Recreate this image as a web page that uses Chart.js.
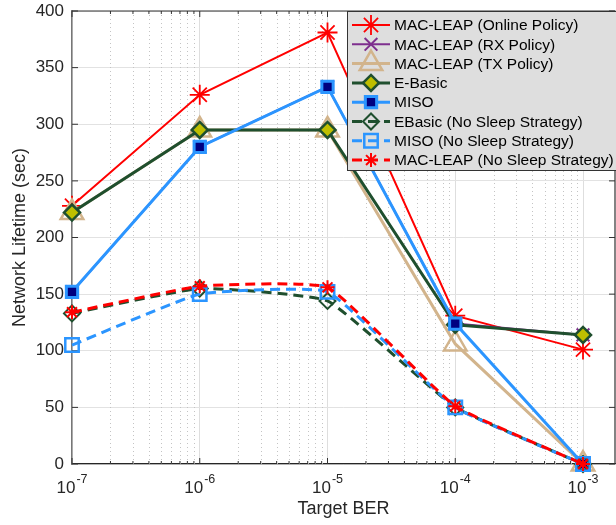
<!DOCTYPE html>
<html>
<head>
<meta charset="utf-8">
<script src="https://cdn.jsdelivr.net/npm/chart.js@4.4.0/dist/chart.umd.min.js"></script>
<style>
  body { margin: 0; background: #fff; }
  #wrap { width: 616px; height: 525px; }
</style>
</head>
<body>
<div id="wrap"><canvas id="lifetimeChart"></canvas></div>
<script>
// values
var berValues = [1e-7, 1e-6, 1e-5, 1e-4, 1e-3];
var berExponents = ['-7', '-6', '-5', '-4', '-3'];
var lifetimeTicks = [0, 50, 100, 150, 200, 250, 300, 350, 400];

var onlinePolicy   = [228, 326, 381, 131, 101];
var rxPolicy       = [152, 280, 333, 124, 114];
var txPolicy       = [222, 295, 295, 106, 0];
var eBasic         = [222, 295, 295, 123, 114];
var miso           = [152, 280, 333, 124, 0];
var eBasicNoSleep  = [133, 155, 144, 50, 0];
var misoNoSleep    = [105, 150, 152, 50, 0];
var macLeapNoSleep = [134, 157, 156, 51, 0];

var fam = "'Liberation Sans', Arial, Helvetica, sans-serif";
Chart.defaults.font.family = fam;

var RED = '#ff0000', PURPLE = '#7e2f8e', TAN = '#d2b48c',
    GREEN = '#1f4f2e', BLUE = '#2b95ff', NAVY = '#000080', OLIVE = '#bfbf00';

function series(label, values, color, o) {
  return {
    label: label,
    data: berValues.map(function(b, i) { return { x: b, y: values[i] }; }),
    borderColor: color,
    borderWidth: o.width,
    borderDash: o.dash || [],
    tension: o.tension || 0,
    pointStyle: o.marker,
    pointRadius: o.radius,
    pointHoverRadius: o.radius,
    pointBorderWidth: o.mw,
    pointBorderColor: color,
    pointBackgroundColor: o.fill || 'rgba(0,0,0,0)',
    fill: false,
    clip: false
  };
}

var datasets = [
  series('MAC-LEAP (Online Policy)', onlinePolicy, RED, {width: 2, marker: 'star', radius: 10, mw: 1.8}),
  series('MAC-LEAP (RX Policy)', rxPolicy, PURPLE, {width: 2, marker: 'crossRot', radius: 9, mw: 2}),
  series('MAC-LEAP (TX Policy)', txPolicy, TAN, {width: 3, marker: 'triangle', radius: 13, mw: 2.5}),
  series('E-Basic', eBasic, GREEN, {width: 3, marker: 'rectRot', radius: 8, mw: 2.5, fill: OLIVE}),
  series('MISO', miso, BLUE, {width: 3, marker: 'rect', radius: 8, mw: 3, fill: NAVY}),
  series('EBasic (No Sleep Strategy)', eBasicNoSleep, GREEN, {width: 3, dash: [10, 6], tension: 0.12, marker: 'rectRot', radius: 8, mw: 2}),
  series('MISO (No Sleep Strategy)', misoNoSleep, BLUE, {width: 3, dash: [10, 6], tension: 0.12, marker: 'rect', radius: 9.5, mw: 2.5}),
  series('MAC-LEAP (No Sleep Strategy)', macLeapNoSleep, RED, {width: 3, dash: [10, 6], tension: 0.12, marker: 'star', radius: 7, mw: 2})
];
// later series on top, like the original plot
datasets.forEach(function(d, i) { d.order = datasets.length - i; });

function mark(ctx, ds, x, y) {
  ctx.setLineDash([]);
  ctx.lineWidth = ds.pointBorderWidth;
  ctx.strokeStyle = ds.pointBorderColor;
  ctx.fillStyle = ds.pointBackgroundColor;
  Chart.helpers.drawPoint(ctx, {pointStyle: ds.pointStyle, radius: ds.pointRadius, rotation: 0, borderWidth: ds.pointBorderWidth}, x, y);
}

var framePlugin = {
  id: 'frame',
  beforeDatasetsDraw: function(chart) {
    var ctx = chart.ctx, a = chart.chartArea, xs = chart.scales.x, ys = chart.scales.y;
    ctx.save();
    // minor dotted grid
    ctx.strokeStyle = '#c4c4c4';
    ctx.lineWidth = 1;
    ctx.setLineDash([1, 3]);
    var minors = [];
    berValues.forEach(function(b) {
      for (var k = 2; k <= 9; k++) if (b * k < xs.max) minors.push(b * k);
    });
    minors.forEach(function(v) {
      var px = Math.round(xs.getPixelForValue(v)) + 0.5;
      ctx.beginPath(); ctx.moveTo(px, a.top); ctx.lineTo(px, a.bottom); ctx.stroke();
    });
    ctx.setLineDash([]);
    // box
    ctx.strokeStyle = '#333';
    ctx.lineWidth = 1.2;
    ctx.beginPath();
    ctx.moveTo(a.left, a.top); ctx.lineTo(a.right, a.top); ctx.lineTo(a.right, a.bottom);
    ctx.stroke();
    // tick marks
    ctx.lineWidth = 1;
    ctx.beginPath();
    berValues.forEach(function(v) {
      var px = xs.getPixelForValue(v);
      ctx.moveTo(px, a.bottom); ctx.lineTo(px, a.bottom - 6);
      ctx.moveTo(px, a.top); ctx.lineTo(px, a.top + 6);
    });
    minors.forEach(function(v) {
      var px = xs.getPixelForValue(v);
      ctx.moveTo(px, a.bottom); ctx.lineTo(px, a.bottom - 3);
      ctx.moveTo(px, a.top); ctx.lineTo(px, a.top + 3);
    });
    lifetimeTicks.forEach(function(v) {
      var py = ys.getPixelForValue(v);
      ctx.moveTo(a.left, py); ctx.lineTo(a.left + 6, py);
      ctx.moveTo(a.right, py); ctx.lineTo(a.right - 6, py);
    });
    ctx.stroke();
    // x tick labels with exponents
    ctx.fillStyle = '#262626';
    ctx.textBaseline = 'alphabetic';
    ctx.textAlign = 'left';
    berValues.forEach(function(v, i) {
      var px = xs.getPixelForValue(v);
      ctx.font = '17px ' + fam;
      var w1 = ctx.measureText('10').width;
      ctx.font = '12.5px ' + fam;
      var w2 = ctx.measureText(berExponents[i]).width;
      var left = px - (w1 + w2 + 1) / 2;
      ctx.font = '17px ' + fam;
      ctx.fillText('10', left, 493);
      ctx.font = '12.5px ' + fam;
      ctx.fillText(berExponents[i], left + w1 + 1, 483);
    });
    ctx.restore();
  },
  afterDatasetsDraw: function(chart) {
    var ctx = chart.ctx;
    ctx.save();
    ctx.fillStyle = '#dedede';
    ctx.fillRect(347.5, 11.5, 280, 159);
    ctx.strokeStyle = '#333';
    ctx.lineWidth = 1;
    ctx.strokeRect(347.5, 11.5, 280, 159);
    chart.data.datasets.forEach(function(ds, i) {
      var y = 25 + i * 19.3;
      ctx.setLineDash(ds.borderDash);
      ctx.strokeStyle = ds.borderColor;
      ctx.lineWidth = ds.borderWidth;
      ctx.beginPath(); ctx.moveTo(352, y); ctx.lineTo(390, y); ctx.stroke();
      mark(ctx, ds, 371, y);
      ctx.fillStyle = '#000';
      ctx.font = '15.5px ' + fam;
      ctx.textBaseline = 'middle';
      ctx.textAlign = 'left';
      ctx.fillText(ds.label, 394, y + 1);
    });
    ctx.restore();
  }
};

new Chart(document.getElementById('lifetimeChart'), {
  type: 'line',
  data: { datasets: datasets },
  plugins: [framePlugin],
  options: {
    responsive: true,
    maintainAspectRatio: false,
    animation: false,
    layout: { autoPadding: false, padding: { top: 11, right: 1, left: 0, bottom: 0 } },
    plugins: { legend: { display: false }, tooltip: { enabled: false } },
    scales: {
      x: {
        type: 'logarithmic',
        min: 1e-7,
        max: 1.78e-3,
        afterBuildTicks: function(scale) {
          scale.ticks = berValues.map(function(v) { return { value: v }; });
        },
        afterFit: function(scale) { scale.height = 61; },
        ticks: { display: false },
        grid: { color: '#dedede', drawTicks: false },
        border: { color: '#262626', width: 1.2 },
        title: { display: true, text: 'Target BER', color: '#262626', font: { size: 18 }, padding: { top: 0, bottom: 5 } }
      },
      y: {
        min: 0,
        max: 400,
        afterBuildTicks: function(scale) {
          scale.ticks = lifetimeTicks.map(function(v) { return { value: v }; });
        },
        afterFit: function(scale) {
          scale.width = 72;
          scale.paddingTop = 0;
          scale.paddingBottom = 0;
        },
        ticks: { color: '#262626', font: { size: 17 }, padding: 8 },
        grid: { color: '#e2e2e2', drawTicks: false },
        border: { color: '#777', width: 1.5 },
        title: { display: true, text: 'Network Lifetime (sec)', color: '#262626', font: { size: 18 }, padding: { top: 9, bottom: 0 } }
      }
    }
  }
});
</script>
</body>
</html>
